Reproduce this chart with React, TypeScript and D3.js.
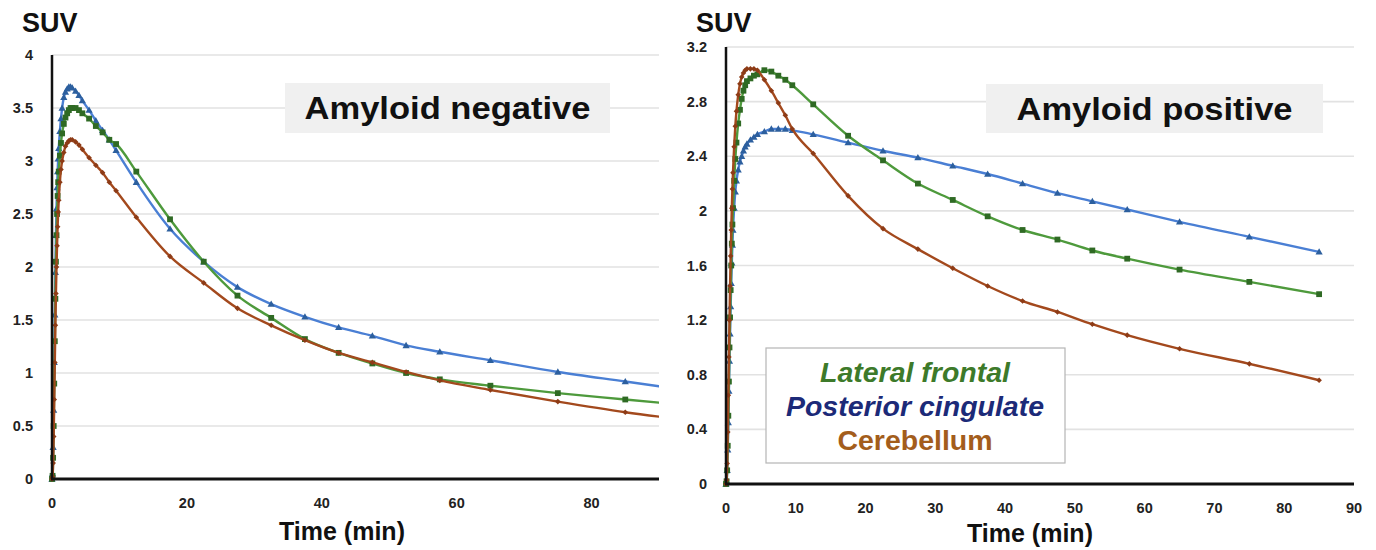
import React from "react";
import * as d3 from "d3";

// ---------- DATA ----------
const timesNeg = [0, 0.083, 0.167, 0.25, 0.333, 0.417, 0.5, 0.583, 0.667, 0.75, 0.833, 0.917, 1.0, 1.167, 1.333, 1.5, 1.75, 2.0, 2.25, 2.5, 2.75, 3.0, 3.5, 4.0, 4.5, 5.5, 6.5, 7.5, 8.5, 9.5, 12.5, 17.5, 22.5, 27.5, 32.5, 37.5, 42.5, 47.5, 52.5, 57.5, 65, 75, 85, 95];
const negPosteriorCingulate = [0, 0.05, 0.3, 0.65, 1.1, 1.55, 1.95, 2.3, 2.55, 2.75, 2.9, 3.02, 3.12, 3.28, 3.4, 3.5, 3.6, 3.65, 3.68, 3.7, 3.7, 3.69, 3.66, 3.62, 3.57, 3.48, 3.38, 3.29, 3.2, 3.1, 2.8, 2.36, 2.05, 1.81, 1.65, 1.53, 1.43, 1.35, 1.26, 1.2, 1.12, 1.01, 0.92, 0.83];
const negLateralFrontal = [0, 0.03, 0.2, 0.5, 0.9, 1.3, 1.7, 2.05, 2.3, 2.5, 2.67, 2.8, 2.9, 3.05, 3.17, 3.26, 3.35, 3.41, 3.45, 3.48, 3.5, 3.5, 3.5, 3.48, 3.45, 3.4, 3.33, 3.27, 3.2, 3.16, 2.9, 2.45, 2.05, 1.73, 1.52, 1.32, 1.19, 1.09, 1.0, 0.94, 0.88, 0.81, 0.75, 0.69];
const negCerebellum = [0, 0.02, 0.15, 0.4, 0.75, 1.1, 1.45, 1.75, 2.0, 2.2, 2.38, 2.52, 2.63, 2.8, 2.92, 3.0, 3.08, 3.14, 3.17, 3.19, 3.2, 3.2, 3.18, 3.15, 3.11, 3.03, 2.96, 2.89, 2.8, 2.72, 2.47, 2.1, 1.85, 1.61, 1.45, 1.31, 1.19, 1.1, 1.01, 0.93, 0.84, 0.73, 0.63, 0.55];

const timesPos = [0, 0.083, 0.167, 0.25, 0.333, 0.417, 0.5, 0.583, 0.667, 0.75, 0.833, 0.917, 1.0, 1.167, 1.333, 1.5, 1.75, 2.0, 2.25, 2.5, 2.75, 3.0, 3.5, 4.0, 4.5, 5.5, 6.5, 7.5, 8.5, 9.5, 12.5, 17.5, 22.5, 27.5, 32.5, 37.5, 42.5, 47.5, 52.5, 57.5, 65, 75, 85];
const posPosteriorCingulate = [0, 0.02, 0.1, 0.25, 0.45, 0.68, 0.9, 1.1, 1.3, 1.47, 1.62, 1.75, 1.86, 2.02, 2.14, 2.22, 2.3, 2.36, 2.4, 2.44, 2.47, 2.49, 2.52, 2.54, 2.56, 2.58, 2.6, 2.6, 2.6, 2.59, 2.56, 2.5, 2.44, 2.39, 2.33, 2.27, 2.2, 2.13, 2.07, 2.01, 1.92, 1.81, 1.7];
const posLateralFrontal = [0, 0.02, 0.1, 0.28, 0.5, 0.75, 1.0, 1.22, 1.42, 1.6, 1.76, 1.9, 2.02, 2.22, 2.38, 2.5, 2.64, 2.74, 2.82, 2.88, 2.92, 2.95, 2.97, 2.99, 3.0, 3.03, 3.02, 2.99, 2.96, 2.92, 2.78, 2.55, 2.37, 2.2, 2.08, 1.96, 1.86, 1.79, 1.71, 1.65, 1.57, 1.48, 1.39];
const posCerebellum = [0, 0.03, 0.15, 0.38, 0.65, 0.93, 1.2, 1.45, 1.67, 1.86, 2.02, 2.16, 2.28, 2.47, 2.62, 2.73, 2.85, 2.93, 2.98, 3.01, 3.03, 3.04, 3.04, 3.04, 3.03, 2.96, 2.88, 2.79, 2.7, 2.6, 2.42, 2.11, 1.87, 1.72, 1.58, 1.45, 1.34, 1.26, 1.17, 1.09, 0.99, 0.88, 0.76];

const negYTicks = [0, 0.5, 1, 1.5, 2, 2.5, 3, 3.5, 4];
const negXTicks = [0, 20, 40, 60, 80];
const posYTicks = [0, 0.4, 0.8, 1.2, 1.6, 2, 2.4, 2.8, 3.2];
const posXTicks = [0, 10, 20, 30, 40, 50, 60, 70, 80, 90];

const legendLabels = ["Lateral frontal", "Posterior cingulate", "Cerebellum"];
const panelTitles = ["Amyloid negative", "Amyloid positive"];

// ---------- STYLE ----------
const FONT = "'Liberation Sans', Arial, Helvetica, sans-serif";
const C = {
  blueLine: "#4a7fd4",
  blueMark: "#2c5f9e",
  greenLine: "#4e9a3c",
  greenMark: "#2f6a24",
  redLine: "#a3491d",
  redMark: "#8d3b16",
  grid: "#e2e2e2",
};

type Series = { t: number[]; v: number[]; line: string; mark: string; shape: "tri" | "sq" | "dia" };

function Marker({ x, y, shape, color }: { x: number; y: number; shape: string; color: string }) {
  if (shape === "tri") {
    const s = 3.6;
    return <path d={`M${x},${y - s}L${x + s},${y + s * 0.75}L${x - s},${y + s * 0.75}Z`} fill={color} />;
  }
  if (shape === "sq") {
    const s = 2.9;
    return <rect x={x - s} y={y - s} width={2 * s} height={2 * s} fill={color} />;
  }
  const s = 2.8;
  return <path d={`M${x},${y - s}L${x + s},${y}L${x},${y + s}L${x - s},${y}Z`} fill={color} />;
}

function Panel({
  id, x0, x1, y0, y1, xMax, yMax, xTicks, yTicks, series, title, box, labelBase, timeX, timeY,
}: {
  id: string; x0: number; x1: number; y0: number; y1: number; xMax: number; yMax: number;
  xTicks: number[]; yTicks: number[]; series: Series[]; title: string;
  box: { x: number; y: number; w: number; h: number; tl: number; fs: number };
  labelBase: number; timeX: number; timeY: number;
}) {
  const xs = d3.scaleLinear().domain([0, xMax]).range([x0, x1]);
  const ys = d3.scaleLinear().domain([0, yMax]).range([y0, y1]);
  const line = d3
    .line<[number, number]>()
    .x((d) => xs(d[0]))
    .y((d) => ys(d[1]))
    .curve(d3.curveMonotoneX);
  return (
    <g>
      <defs>
        <clipPath id={`clip-${id}`}>
          <rect x={x0 - 6} y={y1 - 10} width={x1 - x0 + 6} height={y0 - y1 + 16} />
        </clipPath>
      </defs>
      {yTicks.map((t) => (
        <line key={`g${t}`} x1={x0} x2={x1} y1={ys(t)} y2={ys(t)} stroke={C.grid} strokeWidth={1.6} />
      ))}
      {yTicks.map((t) => (
        <text key={`yl${t}`} x={x0 - 19} y={ys(t) + 5} textAnchor="end" fontFamily={FONT} fontWeight="bold" fontSize={14.5} fill="#222">
          {String(t)}
        </text>
      ))}
      {xTicks.map((t) => (
        <text key={`xl${t}`} x={xs(t)} y={labelBase} textAnchor="middle" fontFamily={FONT} fontWeight="bold" fontSize={14.5} fill="#222">
          {String(t)}
        </text>
      ))}
      <rect x={box.x} y={box.y} width={box.w} height={box.h} fill="#f0f0f0" />
      <text
        x={box.x + box.w / 2}
        y={box.y + box.h / 2 + box.fs * 0.36}
        textAnchor="middle"
        fontFamily={FONT}
        fontWeight="bold"
        fontSize={box.fs}
        fill="#111"
        textLength={box.tl}
        lengthAdjust="spacingAndGlyphs"
      >
        {title}
      </text>
      <g clipPath={`url(#clip-${id})`}>
        {series.map((s, i) => {
          const pts: [number, number][] = s.t.map((t, k) => [t, s.v[k]]);
          return (
            <g key={i}>
              <path d={line(pts) || ""} fill="none" stroke={s.line} strokeWidth={2.4} />
              {pts.map((p, k) => (
                <Marker key={k} x={xs(p[0])} y={ys(p[1])} shape={s.shape} color={s.mark} />
              ))}
            </g>
          );
        })}
      </g>
      <line x1={x0} x2={x0} y1={y1} y2={y0} stroke="#111" strokeWidth={2.5} />
      <line x1={x0 - 1} x2={x1} y1={y0} y2={y0} stroke="#111" strokeWidth={3} />
      <text x={x0 - 30} y={32} fontFamily={FONT} fontWeight="bold" fontSize={27} fill="#111">SUV</text>
      <text x={timeX} y={timeY} textAnchor="middle" fontFamily={FONT} fontWeight="bold" fontSize={25} fill="#111">
        Time (min)
      </text>
    </g>
  );
}

export default function App() {
  const negSeries: Series[] = [
    { t: timesNeg, v: negPosteriorCingulate, line: C.blueLine, mark: C.blueMark, shape: "tri" },
    { t: timesNeg, v: negLateralFrontal, line: C.greenLine, mark: C.greenMark, shape: "sq" },
    { t: timesNeg, v: negCerebellum, line: C.redLine, mark: C.redMark, shape: "dia" },
  ];
  const posSeries: Series[] = [
    { t: timesPos, v: posPosteriorCingulate, line: C.blueLine, mark: C.blueMark, shape: "tri" },
    { t: timesPos, v: posLateralFrontal, line: C.greenLine, mark: C.greenMark, shape: "sq" },
    { t: timesPos, v: posCerebellum, line: C.redLine, mark: C.redMark, shape: "dia" },
  ];
  const legendColors = ["#3d7a2a", "#1c2a78", "#a35d1c"];
  const legendItalic = [true, true, false];
  return (
    <svg width={1376} height={550} style={{ position: "absolute", left: 0, top: 0, background: "#fff" }}>
      <rect x={0} y={0} width={1376} height={550} fill="#fff" />
      <Panel
        id="neg"
        x0={52} x1={659} y0={479} y1={55} xMax={90} yMax={4}
        xTicks={negXTicks} yTicks={negYTicks} series={negSeries}
        title={panelTitles[0]}
        box={{ x: 285, y: 83, w: 325, h: 50, tl: 286, fs: 31 }}
        labelBase={508} timeX={342} timeY={540}
      />
      <Panel
        id="pos"
        x0={726} x1={1354} y0={484} y1={47} xMax={90} yMax={3.2}
        xTicks={posXTicks} yTicks={posYTicks} series={posSeries}
        title={panelTitles[1]}
        box={{ x: 986, y: 84, w: 337, h: 49, tl: 276, fs: 31 }}
        labelBase={513} timeX={1030} timeY={542}
      />
      <rect x={766} y={348} width={299} height={115} fill="#fff" stroke="#b5b5b5" strokeWidth={1.2} />
      {legendLabels.map((l, i) => (
        <text
          key={l}
          x={915}
          y={382 + i * 34}
          textAnchor="middle"
          fontFamily={FONT}
          fontWeight="bold"
          fontStyle={legendItalic[i] ? "italic" : "normal"}
          fontSize={28.5}
          fill={legendColors[i]}
        >
          {l}
        </text>
      ))}
    </svg>
  );
}
